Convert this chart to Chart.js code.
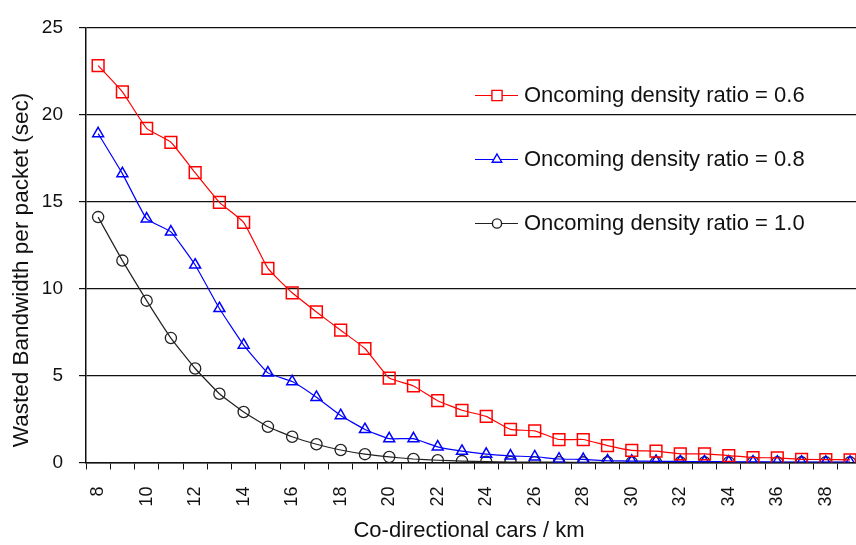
<!DOCTYPE html>
<html>
<head>
<meta charset="utf-8">
<script src="https://cdn.jsdelivr.net/npm/chart.js@4/dist/chart.umd.min.js"></script>
<style>
  html, body { margin: 0; padding: 0; background: #fff; overflow: hidden; }
  #c { display: block; }
</style>
</head>
<body>
<canvas id="c" width="872" height="545" style="width:872px;height:545px"></canvas>
<script>
// Co-directional traffic density (cars / km)
const cars = [8, 9, 10, 11, 12, 13, 14, 15, 16, 17, 18, 19, 20, 21, 22, 23,
              24, 25, 26, 27, 28, 29, 30, 31, 32, 33, 34, 35, 36, 37, 38, 39];

// Wasted bandwidth per packet (sec) for each oncoming density ratio
const ratio06 = [22.8, 21.3, 19.2, 18.4, 16.65, 14.95, 13.8, 11.15, 9.75, 8.65, 7.6, 6.55, 4.85, 4.4, 3.55, 3.0,
                 2.65, 1.9, 1.82, 1.32, 1.32, 0.97, 0.7, 0.65, 0.5, 0.5, 0.4, 0.28, 0.27, 0.18, 0.17, 0.15];
const ratio08 = [18.9, 16.6, 14.0, 13.25, 11.35, 8.85, 6.75, 5.15, 4.65, 3.75, 2.7, 1.9, 1.37, 1.37, 0.9, 0.65,
                 0.48, 0.38, 0.33, 0.2, 0.18, 0.1, 0.08, 0.07, 0.06, 0.05, 0.04, 0.04, 0.03, 0.03, 0.02, 0.02];
const ratio10 = [14.1, 11.6, 9.3, 7.15, 5.4, 3.95, 2.9, 2.05, 1.48, 1.05, 0.72, 0.48, 0.32, 0.2, 0.13, 0.08,
                 0.05, 0.03, 0.02, 0.02, 0.01, 0.01, 0.01, 0.01, 0.01, 0.01, 0.01, 0.01, 0.01, 0.01, 0.01, 0.01];

const seriesLabels = ['Oncoming density ratio = 0.6', 'Oncoming density ratio = 0.8', 'Oncoming density ratio = 1.0'];
const yTicks = [0, 5, 10, 15, 20, 25];
const xTitle = 'Co-directional cars / km';
const yTitle = 'Wasted Bandwidth per packet (sec)';

const FONT = '"Liberation Sans", Arial, sans-serif';

// Legend drawn inside the plot, one row per series
const innerLegend = {
  id: 'innerLegend',
  afterDraw(chart) {
    const ctx = chart.ctx;
    const rows = [95, 159, 223];
    ctx.save();
    chart.data.datasets.forEach((ds, i) => {
      const y = rows[i];
      ctx.strokeStyle = ds.borderColor;
      ctx.lineWidth = 1.2;
      ctx.beginPath();
      ctx.moveTo(475, y + 0.5);
      ctx.lineTo(518, y + 0.5);
      ctx.stroke();
      ctx.lineWidth = 1.4;
      ctx.fillStyle = '#ffffff';
      Chart.helpers.drawPoint(ctx, {
        pointStyle: ds.pointStyle,
        radius: ds.legendRadius,
        rotation: 0,
        borderWidth: 1.4
      }, 497, y + 0.5);
      ctx.fillStyle = '#111';
      ctx.font = '22px ' + FONT;
      ctx.textAlign = 'left';
      ctx.textBaseline = 'middle';
      ctx.fillText(ds.label, 524, y + 1);
    });
    ctx.restore();
  }
};

// Axis titles
const axisTitles = {
  id: 'axisTitles',
  afterDraw(chart) {
    const ctx = chart.ctx;
    ctx.save();
    ctx.fillStyle = '#111';
    ctx.textAlign = 'center';
    ctx.textBaseline = 'middle';
    ctx.font = '22px ' + FONT;
    ctx.fillText(xTitle, 469, 531);
    ctx.translate(22, 270);
    ctx.rotate(-Math.PI / 2);
    ctx.font = '22.5px ' + FONT;
    ctx.fillText(yTitle, 0, 0);
    ctx.restore();
  }
};

new Chart(document.getElementById('c'), {
  type: 'line',
  data: {
    labels: cars,
    datasets: [
      { label: seriesLabels[0], data: ratio06, borderColor: '#ff0000', pointStyle: 'rect',
        pointRadius: 8.3, legendRadius: 7.2, pointBorderWidth: 1.5 },
      { label: seriesLabels[1], data: ratio08, borderColor: '#0000ff', pointStyle: 'triangle',
        pointRadius: 6.3, legendRadius: 5.5, pointBorderWidth: 1.5 },
      { label: seriesLabels[2], data: ratio10, borderColor: '#222222', pointStyle: 'circle',
        pointRadius: 5.6, legendRadius: 4.6, pointBorderWidth: 1.3 }
    ].map(ds => Object.assign({
      backgroundColor: 'rgba(0,0,0,0)',
      pointBackgroundColor: 'rgba(0,0,0,0)',
      pointBorderColor: ds.borderColor,
      pointHoverRadius: ds.pointRadius,
      borderWidth: 1.2,
      tension: 0.12,
      fill: false
    }, ds))
  },
  options: {
    responsive: false,
    maintainAspectRatio: false,
    animation: false,
    devicePixelRatio: 1,
    layout: { padding: { top: 20, right: 0, bottom: 0, left: 0 } },
    plugins: {
      legend: { display: false },
      tooltip: { enabled: false }
    },
    scales: {
      x: {
        type: 'category',
        offset: true,
        grid: {
          offset: true,
          drawOnChartArea: false,
          drawTicks: true,
          tickLength: 7,
          color: '#111',
          lineWidth: 1
        },
        border: { display: true, color: '#111', width: 1.5 },
        ticks: {
          autoSkip: false,
          maxRotation: 90,
          minRotation: 90,
          padding: 17,
          color: '#111',
          font: { family: FONT, size: 18 },
          callback: function (value) {
            const v = this.getLabelForValue(value);
            return (v % 2 === 0) ? String(v) : '';
          }
        },
        title: { display: false },
        afterFit(scale) {
          scale.height = 82.5;
          scale.paddingLeft = 0;
          scale.paddingRight = 0;
        }
      },
      y: {
        min: 0,
        max: 25,
        afterBuildTicks(scale) { scale.ticks = yTicks.map(v => ({ value: v })); },
        grid: {
          color: '#111',
          lineWidth: 1.2,
          tickLength: 7,
          drawTicks: true
        },
        border: { display: true, color: '#111', width: 1.5 },
        ticks: {
          padding: 16,
          color: '#111',
          font: { family: FONT, size: 19 }
        },
        afterFit(scale) { scale.width = 86; }
      }
    }
  },
  plugins: [innerLegend, axisTitles]
});
</script>
</body>
</html>
